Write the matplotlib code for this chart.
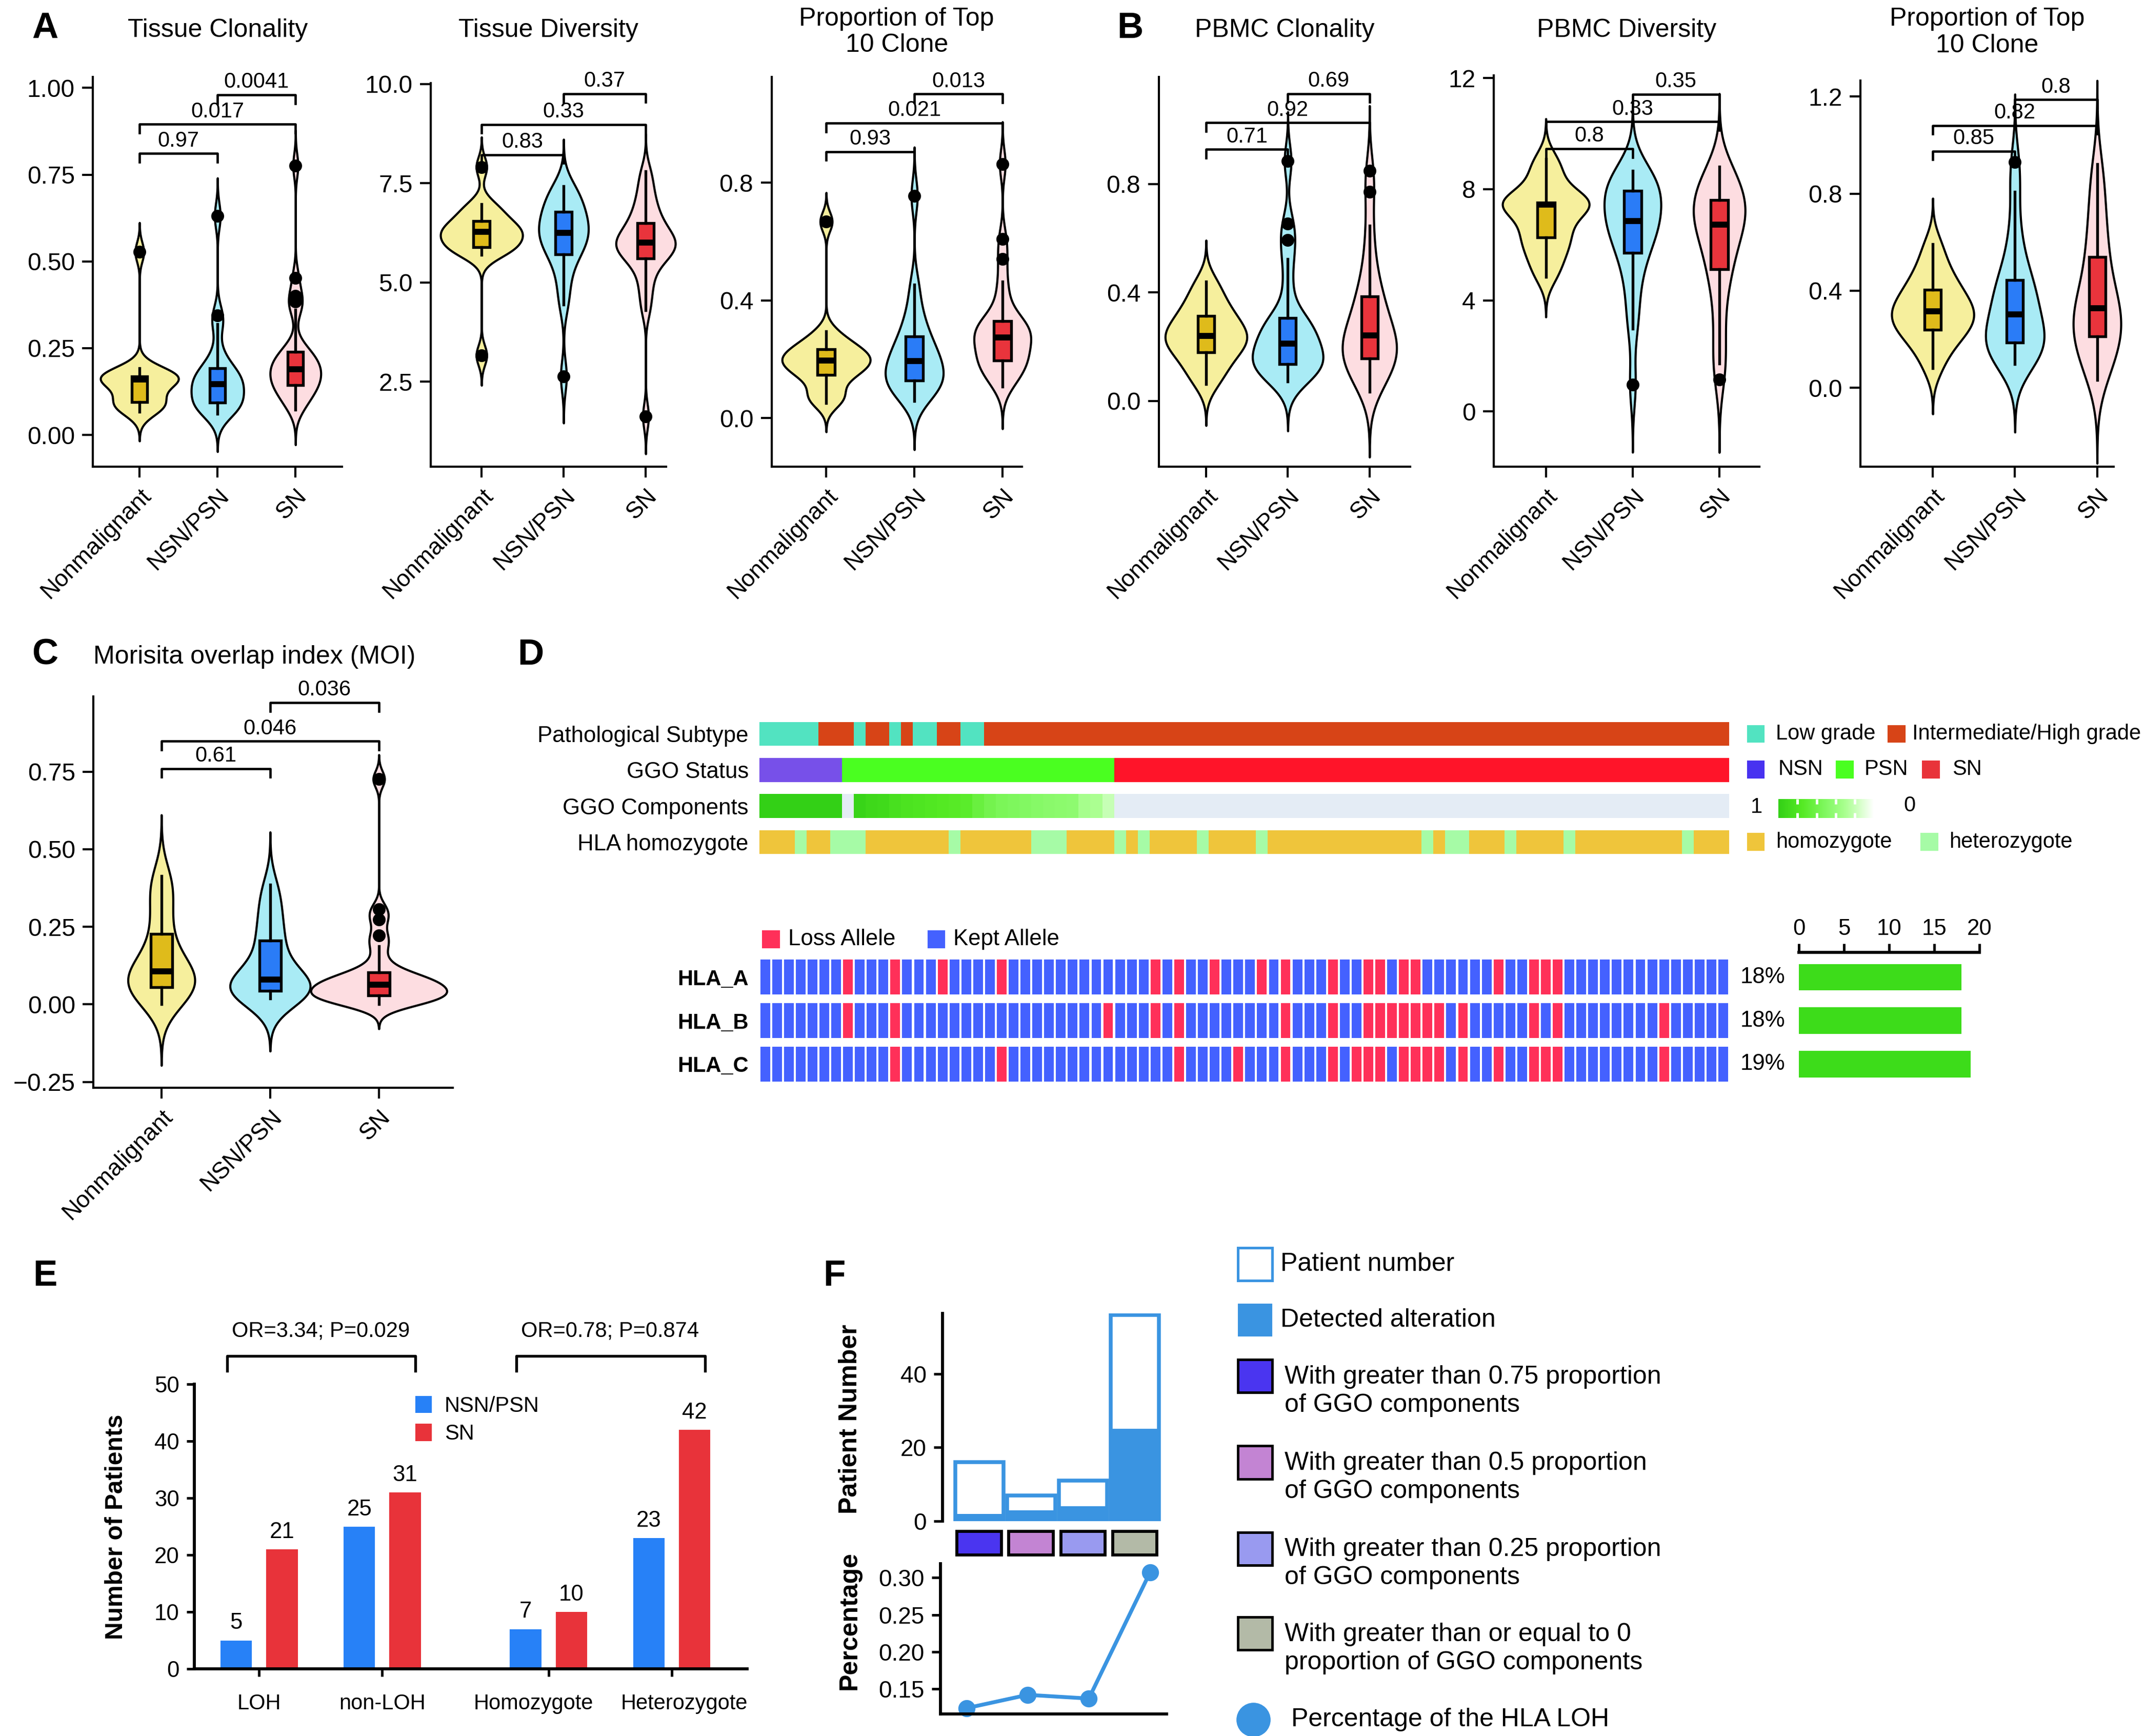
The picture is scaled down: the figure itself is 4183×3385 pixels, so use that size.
import numpy as np
import matplotlib
matplotlib.use("Agg")
import matplotlib.pyplot as plt
import matplotlib.transforms as mtransforms
from matplotlib.colors import LinearSegmentedColormap, Normalize
from matplotlib.cm import ScalarMappable
from matplotlib.patches import Rectangle
from matplotlib.lines import Line2D

plt.rcParams["font.family"] = ["Liberation Sans", "DejaVu Sans"]
plt.rcParams["axes.linewidth"] = 1.0

# ---------------- data ----------------
GROUPS = ["Nonmalignant", "NSN/PSN", "SN"]

# A  tissue TCR metrics
TCLON_NM = [0.067, 0.075, 0.085, 0.09, 0.094, 0.11, 0.13, 0.15, 0.159, 0.16, 0.162, 0.165, 0.168, 0.172, 0.18, 0.192, 0.527]
TCLON_NP = [0.061, 0.07, 0.08, 0.085, 0.09, 0.095, 0.11, 0.125, 0.14, 0.145, 0.148, 0.155, 0.17, 0.18, 0.19, 0.20, 0.24, 0.32, 0.345, 0.631]
TCLON_SN = [0.073, 0.09, 0.105, 0.12, 0.13, 0.138, 0.143, 0.15, 0.16, 0.17, 0.178, 0.185, 0.189, 0.195, 0.205, 0.215, 0.225, 0.232, 0.239, 0.26, 0.36, 0.385, 0.40, 0.453, 0.776]
TCLON_P = ["0.97", "0.017", "0.0041"]

TDIV_NM = [3.16, 5.69, 5.8, 5.85, 5.89, 6.0, 6.1, 6.2, 6.27, 6.3, 6.35, 6.45, 6.55, 6.7, 6.85, 6.97, 7.91]
TDIV_NP = [2.63, 4.44, 4.9, 5.3, 5.6, 5.75, 5.9, 6.0, 6.1, 6.2, 6.3, 6.4, 6.5, 6.6, 6.75, 6.85, 7.0, 7.15, 7.3, 7.43]
TDIV_SN = [1.62, 4.30, 4.7, 5.0, 5.3, 5.5, 5.61, 5.7, 5.78, 5.85, 5.9, 5.95, 6.0, 6.05, 6.1, 6.2, 6.3, 6.4, 6.5, 6.65, 6.8, 7.0, 7.2, 7.5, 7.8]
TDIV_P = ["0.83", "0.33", "0.37"]

TTOP_NM = [0.052, 0.07, 0.09, 0.13, 0.148, 0.16, 0.17, 0.185, 0.196, 0.2, 0.21, 0.22, 0.234, 0.25, 0.26, 0.295, 0.668]
TTOP_NP = [0.059, 0.08, 0.1, 0.11, 0.12, 0.13, 0.14, 0.155, 0.17, 0.19, 0.2, 0.21, 0.23, 0.25, 0.27, 0.3, 0.33, 0.38, 0.454, 0.755]
TTOP_SN = [0.107, 0.13, 0.15, 0.165, 0.18, 0.19, 0.196, 0.21, 0.225, 0.24, 0.255, 0.265, 0.275, 0.285, 0.295, 0.305, 0.315, 0.325, 0.331, 0.36, 0.41, 0.465, 0.541, 0.609, 0.864]
TTOP_P = ["0.93", "0.021", "0.013"]

# B  PBMC TCR metrics
PCLON_NM = [0.061, 0.1, 0.13, 0.16, 0.18, 0.2, 0.215, 0.23, 0.239, 0.25, 0.27, 0.29, 0.313, 0.33, 0.36, 0.40, 0.44]
PCLON_NP = [0.071, 0.09, 0.105, 0.115, 0.125, 0.132, 0.14, 0.155, 0.17, 0.19, 0.2, 0.212, 0.23, 0.25, 0.27, 0.29, 0.30, 0.31, 0.42, 0.523, 0.594, 0.654, 0.884]
PCLON_SN = [0.033, 0.06, 0.09, 0.11, 0.13, 0.145, 0.153, 0.165, 0.18, 0.195, 0.21, 0.222, 0.234, 0.25, 0.27, 0.29, 0.31, 0.34, 0.37, 0.39, 0.43, 0.48, 0.55, 0.647, 0.772, 0.848]
PCLON_P = ["0.71", "0.92", "0.69"]

PDIV_NM = [4.84, 5.3, 5.7, 6.0, 6.26, 6.5, 6.8, 7.1, 7.45, 7.5, 7.5, 7.52, 7.52, 7.8, 8.3, 8.7, 9.09]
PDIV_NP = [0.96, 2.98, 3.8, 4.6, 5.2, 5.65, 5.9, 6.2, 6.45, 6.7, 6.8, 6.9, 7.1, 7.3, 7.5, 7.8, 8.0, 8.1, 8.2, 8.35, 8.5, 8.66]
PDIV_SN = [1.15, 1.73, 2.4, 3.2, 4.0, 4.6, 5.05, 5.3, 5.6, 5.9, 6.2, 6.45, 6.65, 6.8, 6.95, 7.05, 7.15, 7.3, 7.5, 7.65, 7.8, 8.0, 8.2, 8.4, 8.6, 8.81]
PDIV_P = ["0.8", "0.33", "0.35"]

PTOP_NM = [0.081, 0.15, 0.19, 0.22, 0.24, 0.26, 0.28, 0.30, 0.316, 0.33, 0.35, 0.38, 0.405, 0.43, 0.47, 0.52, 0.592]
PTOP_NP = [0.097, 0.11, 0.13, 0.15, 0.17, 0.185, 0.195, 0.21, 0.23, 0.26, 0.29, 0.315, 0.34, 0.37, 0.40, 0.43, 0.45, 0.50, 0.57, 0.66, 0.808, 0.93]
PTOP_SN = [0.033, 0.07, 0.1, 0.13, 0.16, 0.19, 0.21, 0.22, 0.24, 0.26, 0.28, 0.30, 0.32, 0.335, 0.36, 0.39, 0.42, 0.46, 0.51, 0.55, 0.6, 0.65, 0.71, 0.78, 0.85, 0.922]
PTOP_P = ["0.85", "0.82", "0.8"]

# C  Morisita overlap index
MOI_NM = [0.0, 0.02, 0.04, 0.05, 0.056, 0.07, 0.08, 0.095, 0.107, 0.12, 0.14, 0.18, 0.228, 0.28, 0.34, 0.38, 0.414]
MOI_NP = [0.019, 0.025, 0.03, 0.035, 0.04, 0.045, 0.05, 0.06, 0.07, 0.075, 0.085, 0.10, 0.13, 0.16, 0.2, 0.22, 0.26, 0.3, 0.34, 0.386]
MOI_SN = [0.0, 0.005, 0.01, 0.015, 0.02, 0.025, 0.028, 0.032, 0.038, 0.044, 0.05, 0.056, 0.062, 0.066, 0.07, 0.075, 0.082, 0.09, 0.1, 0.105, 0.14, 0.188, 0.222, 0.273, 0.307, 0.726]
MOI_P = ["0.61", "0.046", "0.036"]

# D  patient tracks (82 patients, 1-based indices)
N_PAT = 82
LOW_GRADE = [1, 2, 3, 4, 5, 9, 12, 14, 15, 18, 19]
GGO_STATUS_N = [7, 23, 52]          # NSN, PSN, SN
GGO_COMP = [1.0, 1.0, 1.0, 1.0, 1.0, 1.0, 1.0, np.nan, 0.96, 0.92, 0.9, 0.84, 0.82, 0.8, 0.78,
            0.76, 0.74, 0.72, 0.64, 0.58, 0.54, 0.52, 0.5, 0.48, 0.46, 0.45, 0.44, 0.32, 0.3, 0.2]
HETERO_IDX = [4, 7, 8, 9, 17, 24, 25, 26, 31, 33, 38, 43, 57, 59, 60, 64, 69, 79]
HLA_ROWS = ["HLA_A", "HLA_B", "HLA_C"]
HLA_A_LOSS = [8, 12, 16, 21, 34, 36, 39, 43, 45, 49, 52, 53, 55, 56, 63, 66, 67, 68]
HLA_B_LOSS = [8, 12, 30, 34, 36, 45, 49, 52, 53, 54, 55, 56, 57, 58, 60, 66, 68, 77]
HLA_C_LOSS = [12, 21, 36, 41, 45, 49, 51, 52, 53, 55, 56, 57, 58, 60, 63, 66, 67, 68, 77]
HLA_PCT = ["18%", "18%", "19%"]

# E
E_CATS = ["LOH", "non-LOH", "Homozygote", "Heterozygote"]
E_NSN = [5, 25, 7, 23]
E_SN = [21, 31, 10, 42]
E_TESTS = ["OR=3.34; P=0.029", "OR=0.78; P=0.874"]

# F
F_TOTAL = [16, 7, 11, 56]
F_DETECTED = [2, 3, 4, 25]
F_PCT = [0.124, 0.142, 0.137, 0.307]

# ---------------- colours ----------------
VIOLIN_FILL = ["#F6EF9D", "#A9EBF5", "#FDDDE1"]
BOX_FILL = ["#DFBB1B", "#2A7CF7", "#E9343C"]
TEAL, ORANGE = "#52E3C1", "#D74417"
STATUS_COL = {"NSN": "#7750E9", "PSN": "#4AFF20", "SN": "#FF1429"}
HOMO, HETERO = "#EFC53B", "#A6FBA6"
NA_COL = "#E4ECF5"
LOSS_COL, KEPT_COL = "#FF3059", "#4461FF"
GGO_CMAP = LinearSegmentedColormap.from_list(
    "ggo", [(0, "#FFFFFF"), (0.3, "#AAFF90"), (0.5, "#82F862"), (0.75, "#55EA24"), (1, "#33D016")])
E_BLUE, E_RED = "#2781F7", "#E8333A"
F_BLUE = "#3A94E1"
F_STRIP = ["#4A35F0", "#C384D3", "#999AF0", "#B3BAA7"]

# ---------------- layout helpers (reference px at 1568x1269) ----------------
W0, H0 = 1568.0, 1269.0
fig = plt.figure(figsize=(4183 / 300, 3385 / 300), dpi=300)


def rect(l, t, r, b):
    return [l / W0, 1 - b / H0, (r - l) / W0, (b - t) / H0]


def ftext(x, y, s, **kw):
    return fig.text(x / W0, 1 - y / H0, s, **kw)


def swatch(x, y, w, h, fc, ec="none", lw=0):
    fig.add_artist(Rectangle((x / W0, 1 - (y + h) / H0), w / W0, h / H0,
                             transform=fig.transFigure, facecolor=fc, edgecolor=ec, lw=lw))


def nrd0(x):
    x = np.asarray(x, float)
    q75, q25 = np.percentile(x, [75, 25])
    return 0.9 * min(x.std(ddof=1), (q75 - q25) / 1.34) * len(x) ** -0.2


def violin_panel(box, xlim, ylim, yticks, yfmt, samples, pvals, bar_y, title,
                 pad, vwidth=1.0, loc="center"):
    ax = fig.add_axes(rect(*box))
    dens = []
    for s in samples:
        s = np.asarray(s, float)
        bw = nrd0(s)
        grid = np.linspace(s.min() - 3 * bw, s.max() + 3 * bw, 500)
        d = np.exp(-0.5 * ((grid[:, None] - s[None, :]) / bw) ** 2).sum(1) / (len(s) * bw * np.sqrt(2 * np.pi))
        dens.append((grid, d))
    dmax = max(d.max() for _, d in dens)
    for i, (grid, d) in enumerate(dens):
        hw = d / dmax * vwidth / 2
        ax.fill_betweenx(grid, i + 1 - hw, i + 1 + hw, facecolor=VIOLIN_FILL[i],
                         edgecolor="black", lw=1.0, zorder=1, clip_on=False)
    bp = ax.boxplot(samples, positions=[1, 2, 3], widths=0.2, patch_artist=True,
                    showcaps=False, manage_ticks=False, zorder=3,
                    boxprops=dict(lw=1.3, edgecolor="black"),
                    whiskerprops=dict(lw=1.3), medianprops=dict(color="black", lw=2.8),
                    flierprops=dict(marker="o", mfc="black", mec="black", ms=5))
    for patch, c in zip(bp["boxes"], BOX_FILL):
        patch.set_facecolor(c)
    rng = ylim[1] - ylim[0]
    tip = 0.022 * rng
    for (a, b), y, p in zip([(1, 2), (1, 3), (2, 3)], bar_y, pvals):
        ax.plot([a, a, b, b], [y - tip, y, y, y - tip], color="black", lw=1.1,
                clip_on=False, zorder=4)
        ax.text((a + b) / 2, y + 0.006 * rng, p, ha="center", va="bottom", fontsize=10)
    ax.set_xlim(xlim)
    ax.set_ylim(ylim)
    ax.set_yticks(yticks)
    ax.set_yticklabels([yfmt.format(v).replace("-", "\u2212") for v in yticks], fontsize=11.5)
    ax.set_xticks([1, 2, 3])
    ax.set_xticklabels(GROUPS, rotation=45, ha="right", rotation_mode="anchor", fontsize=11)
    ax.tick_params(length=5, width=1.0)
    for sp in ["top", "right"]:
        ax.spines[sp].set_visible(False)
    ax.set_title(title, fontsize=12, pad=pad, loc=loc, linespacing=1.15)
    return ax


# ---------------- A / B / C ----------------
violin_panel((68, 56.4, 250, 341), (0.404, 3.596), (-0.091, 1.031), [0, 0.25, 0.5, 0.75, 1.0], "{:.2f}",
             [TCLON_NM, TCLON_NP, TCLON_SN], TCLON_P, [0.811, 0.895, 0.98], "Tissue Clonality", 18.8)
violin_panel((315, 60.6, 487, 341), (0.383, 3.25), (0.36, 10.03), [2.5, 5.0, 7.5, 10.0], "{:.1f}",
             [TDIV_NM, TDIV_NP, TDIV_SN], TDIV_P, [8.22, 8.98, 9.76], "Tissue Diversity", 21.5)
violin_panel((564, 56.4, 747, 341), (0.38, 3.22), (-0.164, 1.159), [0, 0.4, 0.8], "{:.1f}",
             [TTOP_NM, TTOP_NP, TTOP_SN], TTOP_P, [0.906, 1.003, 1.102], "Proportion of Top\n10 Clone", 11.8)
violin_panel((847, 56.4, 1031, 341), (0.42, 3.50), (-0.242, 1.194), [0, 0.4, 0.8], "{:.1f}",
             [PCLON_NM, PCLON_NP, PCLON_SN], PCLON_P, [0.928, 1.026, 1.133], "PBMC Clonality", 18.8)
violin_panel((1092, 55, 1286, 341), (0.40, 3.46), (-1.98, 12.1), [0, 4, 8, 12], "{:.0f}",
             [PDIV_NM, PDIV_NP, PDIV_SN], PDIV_P, [9.46, 10.43, 11.42], "PBMC Diversity", 17.9)
violin_panel((1360, 58.7, 1545, 341), (0.12, 3.2), (-0.324, 1.267), [0, 0.4, 0.8, 1.2], "{:.1f}",
             [PTOP_NM, PTOP_NP, PTOP_SN], PTOP_P, [0.975, 1.081, 1.187], "Proportion of Top\n10 Clone", 13.2)
violin_panel((68.4, 509, 331, 795), (0.376, 3.68), (-0.268, 0.993), [-0.25, 0, 0.25, 0.5, 0.75], "{:.2f}",
             [MOI_NM, MOI_NP, MOI_SN], MOI_P, [0.76, 0.848, 0.973], "Morisita overlap index (MOI)", 15.4,
             vwidth=1.25, loc="left")

# panel letters
for letter, (x, y) in {"A": (33, 21), "B": (826, 21), "C": (33, 479), "D": (388, 479),
                       "E": (33, 933), "F": (610, 933)}.items():
    ftext(x, y, letter, fontsize=17, fontweight="bold", ha="center", va="center")

# ---------------- D : annotation tracks ----------------
cells = np.arange(N_PAT)
path_col = [TEAL if i + 1 in LOW_GRADE else ORANGE for i in cells]
status = ["NSN"] * GGO_STATUS_N[0] + ["PSN"] * GGO_STATUS_N[1] + ["SN"] * GGO_STATUS_N[2]
status_col = [STATUS_COL[s] for s in status]
comp_vals = GGO_COMP + [np.nan] * (N_PAT - len(GGO_COMP))
comp_col = [NA_COL if np.isnan(v) else GGO_CMAP(v) for v in comp_vals]
homo_col = [HETERO if i + 1 in HETERO_IDX else HOMO for i in cells]

axT = fig.add_axes(rect(555, 523.3, 1264, 628.7))
for row, cols in enumerate([path_col, status_col, comp_col, homo_col]):
    axT.bar(cells, 0.66, bottom=row - 0.33, width=1.0, align="edge", color=cols, linewidth=0)
axT.set_xlim(0, N_PAT)
axT.set_ylim(3.5, -0.5)
axT.set_yticks([0, 1, 2, 3])
axT.set_yticklabels(["Pathological Subtype", "GGO Status", "GGO Components", "HLA homozygote"], fontsize=10.5)
axT.tick_params(length=0, pad=5)
axT.set_xticks([])
for sp in axT.spines.values():
    sp.set_visible(False)

# track legends
rows_y = [536.5, 562.5, 589, 615.5]
sw = 13
lfs = 10
swatch(1277, rows_y[0] - sw / 2, sw, sw, TEAL)
ftext(1298, rows_y[0], "Low grade", fontsize=lfs, va="center")
swatch(1380, rows_y[0] - sw / 2, sw, sw, ORANGE)
ftext(1398, rows_y[0], "Intermediate/High grade", fontsize=lfs, va="center")
swatch(1277, rows_y[1] - sw / 2, sw, sw, "#4832F0")
ftext(1300, rows_y[1], "NSN", fontsize=lfs, va="center")
swatch(1342, rows_y[1] - sw / 2, sw, sw, STATUS_COL["PSN"])
ftext(1363, rows_y[1], "PSN", fontsize=lfs, va="center")
swatch(1405, rows_y[1] - sw / 2, sw, sw, "#E8333A")
ftext(1427, rows_y[1], "SN", fontsize=lfs, va="center")
ftext(1284, rows_y[2] + 1, "1", fontsize=lfs, va="center", ha="center")
ftext(1396, rows_y[2], "0", fontsize=lfs, va="center", ha="center")
cax = fig.add_axes(rect(1300, 584, 1370, 598))
cb = fig.colorbar(ScalarMappable(norm=Normalize(0, 1), cmap=GGO_CMAP), cax=cax, orientation="horizontal")
cax.invert_xaxis()
cb.outline.set_visible(False)
cb.set_ticks([0.2, 0.4, 0.6, 0.8])
cax.tick_params(which="both", direction="in", colors="white", length=2.5, width=1.2,
                top=True, bottom=True, labelbottom=False)
swatch(1277, rows_y[3] - sw / 2, sw, sw, HOMO)
ftext(1298, rows_y[3], "homozygote", fontsize=lfs, va="center")
swatch(1404, rows_y[3] - sw / 2, sw, sw, HETERO)
ftext(1425, rows_y[3], "heterozygote", fontsize=lfs, va="center")

# ---------------- D : HLA LOH heatmap ----------------
axH = fig.add_axes(rect(555, 696, 1264, 793.7))
for row, loss in enumerate([HLA_A_LOSS, HLA_B_LOSS, HLA_C_LOSS]):
    cols = [LOSS_COL if i + 1 in loss else KEPT_COL for i in cells]
    axH.bar(cells + 0.09, 0.8, bottom=row - 0.4, width=0.82, align="edge", color=cols, linewidth=0)
axH.set_xlim(0, N_PAT)
axH.set_ylim(2.5, -0.576)
axH.set_yticks([0, 1, 2])
axH.set_yticklabels(HLA_ROWS, fontsize=10, fontweight="bold")
axH.tick_params(length=0, pad=5)
axH.set_xticks([])
for sp in axH.spines.values():
    sp.set_visible(False)
trans = mtransforms.blended_transform_factory(axH.transAxes, axH.transData)
for row, pct in enumerate(HLA_PCT):
    axH.text(1 + 8 / 709, row, pct, transform=trans, fontsize=10.5, va="center")

swatch(557, 680, 13, 13, LOSS_COL)
ftext(576, 686.5, "Loss Allele", fontsize=10.5, va="center")
swatch(678, 680, 13, 13, KEPT_COL)
ftext(697, 686.5, "Kept Allele", fontsize=10.5, va="center")

axB = fig.add_axes(rect(1315, 696, 1447, 793.7))
counts = [len(HLA_A_LOSS), len(HLA_B_LOSS), len(HLA_C_LOSS)]
axB.barh([0, 1, 2], counts, height=0.61, color="#3DDC1A")
axB.set_xlim(0, 20)
axB.set_ylim(2.5, -0.576)
axB.set_yticks([])
axB.set_xticks([0, 5, 10, 15, 20])
axB.xaxis.tick_top()
axB.tick_params(axis="x", length=4, width=1.2, labelsize=10.5, pad=2)
for sp in ["bottom", "left", "right"]:
    axB.spines[sp].set_visible(False)
axB.spines["top"].set_linewidth(1.4)

# ---------------- E ----------------
axE = fig.add_axes(rect(142, 1012, 546, 1220))
xpos = np.array([1, 2, 3.35, 4.35])
off, bw_e = 0.186, 0.255
axE.bar(xpos - off, E_NSN, width=bw_e, color=E_BLUE, label="NSN/PSN")
axE.bar(xpos + off, E_SN, width=bw_e, color=E_RED, label="SN")
for xi, v in zip(xpos - off, E_NSN):
    axE.text(xi, v + 1.2, str(v), ha="center", va="bottom", fontsize=10.5)
for xi, v in zip(xpos + off, E_SN):
    axE.text(xi, v + 1.2, str(v), ha="center", va="bottom", fontsize=10.5)
axE.set_xlim(0.474, 4.96)
axE.set_ylim(0, 50)
axE.set_yticks([0, 10, 20, 30, 40, 50])
axE.set_xticks(xpos)
axE.set_xticklabels(E_CATS, fontsize=10)
axE.tick_params(labelsize=10.5, length=3.5, width=1.2)
axE.tick_params(axis="x", pad=8, labelsize=10)
# push the two right-hand labels apart a little, as in the reference
for lab, dx in zip(axE.get_xticklabels()[2:], [-11, 9]):
    lab.set_transform(lab.get_transform() + mtransforms.ScaledTranslation(dx * 2.668 / 300, 0, fig.dpi_scale_trans))
for sp in ["top", "right"]:
    axE.spines[sp].set_visible(False)
axE.spines["left"].set_linewidth(1.4)
axE.spines["bottom"].set_linewidth(1.4)
axE.set_ylabel("Number of Patients", fontsize=11.5, fontweight="bold")
axE.yaxis.set_label_coords(-0.12, 0.5)
for (a, b), txt in zip([(xpos[0], xpos[1]), (xpos[2], xpos[3])], E_TESTS):
    axE.plot([a - 0.26, a - 0.26, b + 0.27, b + 0.27], [52.4, 55, 55, 52.4], color="black",
             lw=1.3, clip_on=False)
    axE.text((a + b) / 2, 59.4, txt, ha="center", va="center", fontsize=10)
axE.legend(loc="upper left", bbox_to_anchor=(0.385, 0.99), frameon=False, fontsize=10,
           handlelength=0.75, handleheight=0.85, handletextpad=0.6, labelspacing=0.35,
           borderaxespad=0)

# ---------------- F ----------------
axF = fig.add_axes(rect(689, 960, 848.5, 1112))
fpos = np.arange(len(F_TOTAL))
axF.bar(fpos, F_TOTAL, width=0.93, facecolor="white", edgecolor=F_BLUE, lw=1.8)
axF.bar(fpos, F_DETECTED, width=0.93, color=F_BLUE, lw=0)
axF.set_xlim(-0.71, 3.5)
axF.set_ylim(0, 56.4)
axF.set_yticks([0, 20, 40])
axF.set_xticks([])
axF.tick_params(labelsize=11, length=4, width=1.2)
for sp in ["top", "right", "bottom"]:
    axF.spines[sp].set_visible(False)
axF.spines["left"].set_linewidth(1.4)
axF.set_ylabel("Patient Number", fontsize=12, fontweight="bold")
axF.yaxis.set_label_coords(-0.37, 0.49)

axS = fig.add_axes(rect(689, 1118, 848.5, 1138))
axS.bar(fpos, 1, bottom=0, width=0.86, color=F_STRIP, edgecolor="black", lw=1.4)
axS.set_xlim(-0.71, 3.5)
axS.set_ylim(-0.08, 1.08)
axS.axis("off")

axL = fig.add_axes(rect(687.5, 1143, 852.7, 1253))
axL.plot(np.arange(1, len(F_PCT) + 1), F_PCT, "-o", color=F_BLUE, lw=1.8, ms=7, clip_on=False)
axL.set_xlim(0.575, 4.27)
axL.set_ylim(0.116, 0.319)
axL.set_yticks([0.15, 0.20, 0.25, 0.30])
axL.set_yticklabels(["0.15", "0.20", "0.25", "0.30"])
axL.set_xticks([])
axL.tick_params(labelsize=11, length=4, width=1.2)
for sp in ["top", "right"]:
    axL.spines[sp].set_visible(False)
axL.spines["left"].set_linewidth(1.4)
axL.spines["bottom"].set_linewidth(1.4)
axL.set_ylabel("Percentage", fontsize=12, fontweight="bold")
axL.yaxis.set_label_coords(-0.35, 0.62)

# F legend
swatch(905, 912, 25, 24, "white", ec=F_BLUE, lw=1.2)
ftext(936, 924, "Patient number", fontsize=12, va="center")
swatch(905, 953, 25, 24, F_BLUE)
ftext(936, 965, "Detected alteration", fontsize=12, va="center")
leg_txt = ["With greater than 0.75 proportion\nof GGO components",
           "With greater than 0.5 proportion\nof GGO components",
           "With greater than 0.25 proportion\nof GGO components",
           "With greater than or equal to 0\nproportion of GGO components"]
for c, t, y in zip(F_STRIP, leg_txt, [994, 1057, 1120, 1182]):
    swatch(905, y, 25, 24, c, ec="black", lw=1.2)
    ftext(939, y + 23, t, fontsize=12, va="center", linespacing=1.25)
fig.add_artist(Line2D([916 / W0], [1 - 1257 / H0], marker="o", ms=15, color=F_BLUE,
                      transform=fig.transFigure))
ftext(944, 1257, "Percentage of the HLA LOH", fontsize=12, va="center")

fig.savefig("out.png", dpi=300)
